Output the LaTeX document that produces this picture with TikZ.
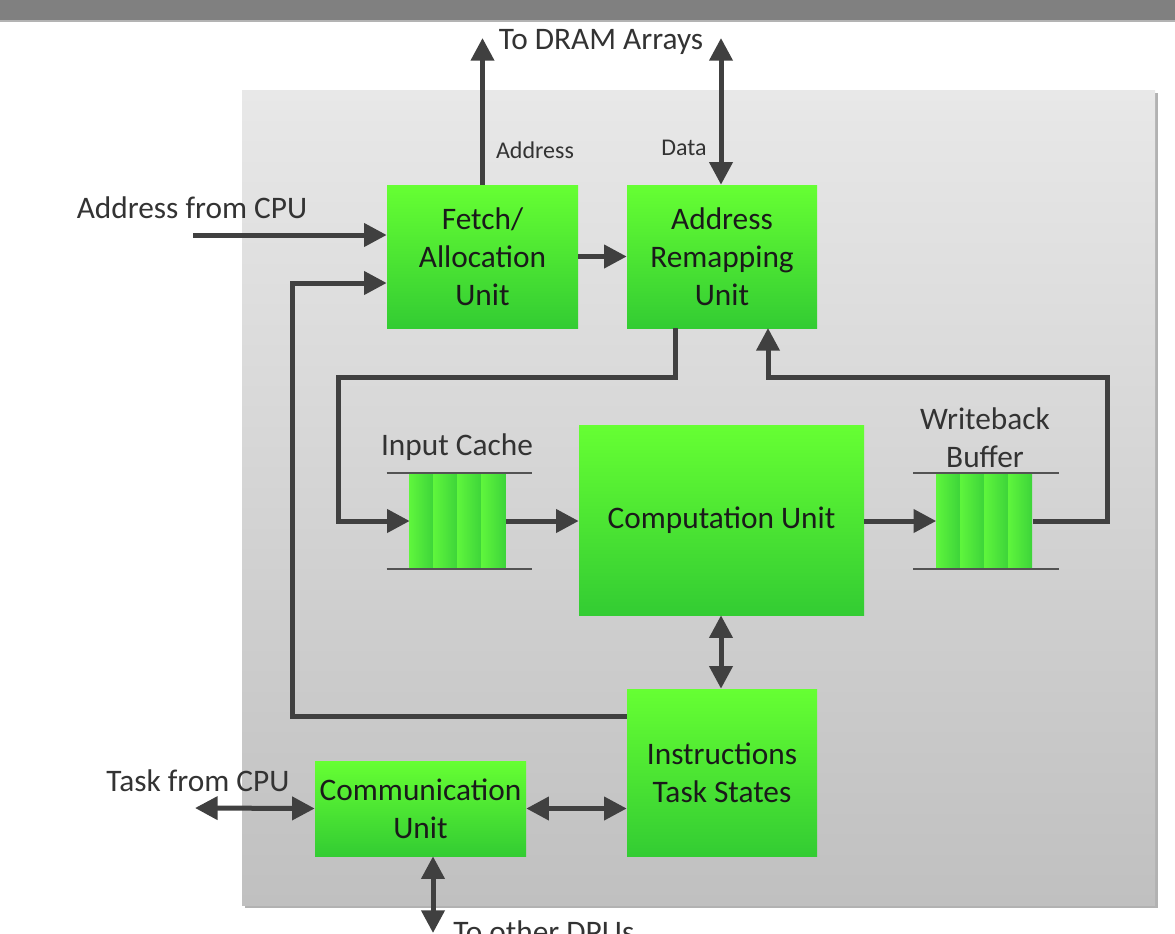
\documentclass[tikz,border=0pt]{standalone}
\usepackage{fontspec}
\setmainfont{Carlito}
\usetikzlibrary{arrows.meta}
\definecolor{gtop}{HTML}{66FF33}
\definecolor{gbot}{HTML}{33CC33}
\definecolor{wirec}{HTML}{404040}
\definecolor{txt}{HTML}{1A1A1A}
\definecolor{lbl}{HTML}{333333}
\definecolor{ptop}{HTML}{E8E8E8}
\definecolor{pbot}{HTML}{C0C0C0}
\definecolor{bar}{HTML}{808080}
\definecolor{qlight}{HTML}{5EF53C}
\definecolor{qdark}{HTML}{3DD43A}
\tikzset{
  gbox/.style={inner sep=0pt, top color=gtop, bottom color=gbot, draw=none, align=center,
    font=\fontsize{23.5}{28.5}\selectfont, text=txt},
  lab/.style={inner sep=0pt, align=center, font=\fontsize{23.5}{28.5}\selectfont, text=lbl},
  slab/.style={inner sep=0pt, align=center, font=\fontsize{18}{22}\selectfont, text=lbl},
  wire/.style={line width=3.75pt, draw=wirec},
  arr/.style={wire, -{Triangle[length=17pt,width=17pt]}},
  darr/.style={wire, {Triangle[length=17pt,width=17pt]}-{Triangle[length=17pt,width=17pt]}},
  qline/.style={line width=1.5pt, draw=wirec!90},
  queue/.style={inner sep=0pt, minimum width=72pt, minimum height=72pt, draw=none},
}
\begin{document}
\begin{tikzpicture}[x=0.75pt,y=-0.75pt]
\useasboundingbox (0,0) rectangle (1175,933);
\clip (0,0) rectangle (1175,933);
% top bar
\fill[bar] (0,0) rectangle (1175,20);
\fill[bar!60] (0,20) rectangle (1175,22);
% panel
\fill[black!30] (245,93) rectangle (1158,908);
\shade[top color=ptop, bottom color=pbot] (242,90) rectangle (1155,905);
% boxes
\node[gbox, minimum width=143.25pt, minimum height=107.25pt] (fetch) at (482.5,256.5) {Fetch/\\Allocation\\Unit};
\node[gbox, minimum width=142.5pt, minimum height=107.25pt] (remap) at (722,256.5) {Address\\Remapping\\Unit};
\node[gbox, minimum width=213.75pt, minimum height=142.5pt] (comp) at (721.5,520) {Computation Unit};
\node[gbox, minimum width=142.5pt, minimum height=125.25pt] (instr) at (722,772.5) {Instructions\\Task States};
\node[gbox, minimum width=158.25pt, minimum height=71.25pt] (comm) at (420.5,808.5) {Communication\\Unit};
% queues
\node[queue] (icq) at (458,521) {};
\node[queue] (wbq) at (984.5,521) {};
\foreach \q in {icq,wbq}{
  \foreach \i in {0,1,2,3}{
    \shade[left color=qlight, right color=qdark]
      ([xshift=\i*18pt]\q.south west) rectangle ([xshift=\i*18pt+18pt]\q.north west);
  }
  \draw[qline] ([xshift=-17.25pt]\q.north west) -- ([xshift=19.5pt]\q.north east);
  \draw[qline] ([xshift=-17.25pt]\q.south west) -- ([xshift=19.5pt]\q.south east);
}
% labels
\node[lab] (ltop) at (601,42) {To DRAM Arrays};
\node[slab] (laddr) at (535,150) {Address};
\node[slab] (ldata) at (684,148) {Data};
\node[lab] (lacpu) at (192,208) {Address from CPU};
\node[lab] (ltcpu) at (198,781) {Task from CPU};
\node[lab] (lic) at (457,447) {Input Cache};
\node[lab] (lwb) at (985,438) {Writeback\\Buffer};
\node[lab, anchor=west] (ldpu) at (453,932) {To other DPUs};
% coordinates
\coordinate (addrtop) at (482.5,38);
\coordinate (datatop) at (721,38);
\coordinate (acpu) at (193,235);
\coordinate (tcpu) at (195,808);
\coordinate (dpu) at (433,933);
% connectors
\draw[arr] (fetch.north) -- (addrtop);
\draw[darr] (remap.north -| datatop) -- (datatop);
\draw[arr] (acpu) -- (acpu -| fetch.west);
\draw[arr] (fetch.east) -- (remap.west);
\draw[arr] (instr.west |- 0,716) -- (292,716) -- (292,283) -- (fetch.west |- 0,283);
\draw[arr] (675,328) -- (675,377) -- (338,377) -- (338,521) -- (icq.west);
\draw[arr] (icq.east) -- (comp.west |- icq.east);
\draw[arr] (comp.east |- wbq.west) -- (wbq.west);
\draw[arr] (wbq.east) -- (1107,521) -- (1107,377) -- (768,377) -- (768,328);
\draw[darr] (comp.south -| 721,0) -- (instr.north -| 721,0);
\draw[darr] (comm.east) -- (instr.west |- comm.east);
\draw[darr] (tcpu) -- (comm.west);
\draw[darr] (comm.south -| dpu) -- (dpu);
\end{tikzpicture}
\end{document}
